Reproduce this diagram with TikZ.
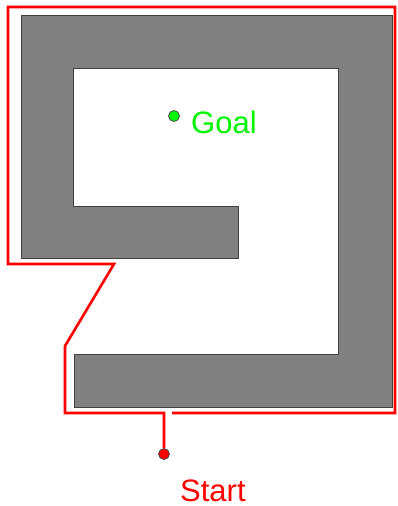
\documentclass[tikz,border=0pt]{standalone}
\usepackage{fontspec}
\setmainfont{Liberation Sans}
\usetikzlibrary{positioning}

\definecolor{wallgray}{RGB}{128,128,128}
\definecolor{pathred}{RGB}{255,0,0}
\definecolor{goalgreen}{RGB}{0,245,0}

\begin{document}
\begin{tikzpicture}[
    x=1pt, y=-1pt,
    wall/.style={fill=wallgray, draw=black!75, line width=1pt},
    route/.style={pathred, line width=2.6pt},
    dot/.style={circle, draw=black!70, line width=0.8pt, minimum size=11pt, inner sep=0pt},
    label/.style={font=\fontsize{31}{31}\selectfont, inner sep=0pt, anchor=base west}
]
\useasboundingbox (0,0) rectangle (397,506);

% Walls of the maze
\draw[wall] (21,15) -- (392,15) -- (392,407) -- (74,407) -- (74,354)
    -- (338,354) -- (338,68) -- (73,68) -- (73,206) -- (238,206)
    -- (238,258) -- (21,258) -- cycle;

% Goal
\node[dot, fill=goalgreen] (goal) at (174,116) {};
\node[label, goalgreen] (goaltext) at (191,133) {Goal};

% Start
\node[dot, fill=pathred] (start) at (164,454) {};
\node[label, pathred] (starttext) at (180,501) {Start};

% Route around the walls
\coordinate (routeend) at (172,413);
\draw[route, line join=miter] (start) -- (164,413) -- (65,413) -- (65,346)
    -- (114,264) -- (8,264) -- (8,7) -- (395,7) -- (395,413) -- (routeend);

\end{tikzpicture}
\end{document}
